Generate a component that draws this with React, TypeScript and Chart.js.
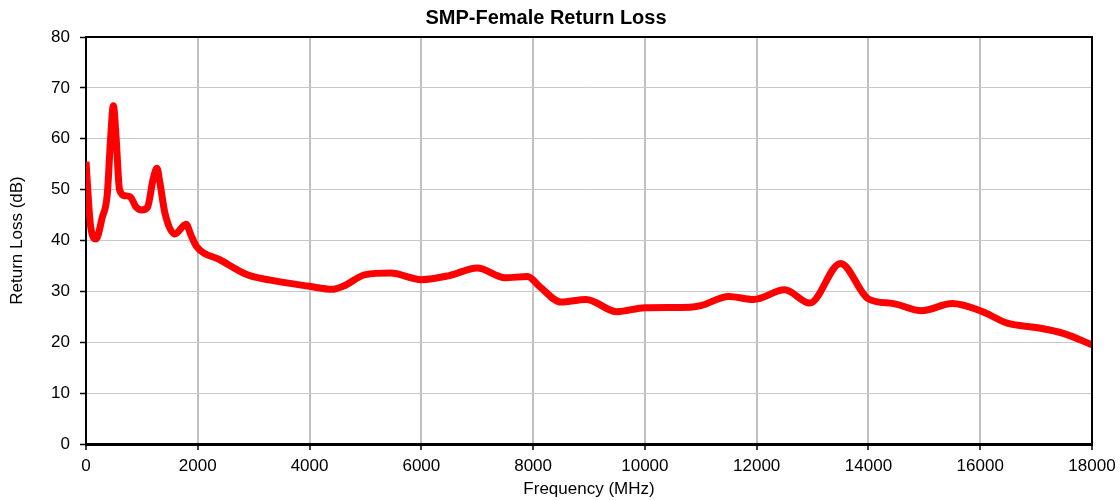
import React, { useEffect, useRef } from "react";
import { Chart, registerables } from "chart.js";

Chart.register(...registerables);

const frequencies = [
  0, 80, 180, 290, 380, 440, 490, 540, 600, 700, 790, 900, 1000, 1100, 1200, 1270,
  1320, 1414, 1590, 1790, 1880, 1980, 2400, 2900, 3300, 4000, 4400, 4600, 5000, 5450,
  6000, 6500, 7000, 7500, 7900, 8120, 8500, 8950, 9500, 10000, 10800, 11000, 11500,
  11950, 12500, 12950, 13500, 14000, 14450, 14950, 15500, 16000, 16500, 17000, 17500, 18000,
];
const returnLoss = [
  55.5, 43, 40.3, 44.5, 49, 60, 66.5, 60, 50, 48.8, 48.6, 46.5, 46, 46.5, 52, 54.2,
  51.5, 45.3, 41.3, 43.2, 41, 38.8, 36.2, 33.2, 32.2, 31, 30.4, 31, 33.3, 33.6,
  32.3, 33.1, 34.6, 32.7, 32.9, 30.9, 27.9, 28.4, 26, 26.8, 26.9, 27.2, 29,
  28.4, 30.3, 27.7, 35.5, 28.5, 27.6, 26.2, 27.6, 26.2, 23.7, 22.9, 21.7, 19.5,
];
const xTicks = [0, 2000, 4000, 6000, 8000, 10000, 12000, 14000, 16000, 18000];
const yTicks = [0, 10, 20, 30, 40, 50, 60, 70, 80];

const FONT = "'Liberation Sans', Arial, sans-serif";

const frameBorder = {
  id: "frameBorder",
  afterDatasetsDraw(chart: any) {
    const { ctx, chartArea } = chart;
    ctx.save();
    ctx.strokeStyle = "#000";
    ctx.lineWidth = 2;
    ctx.beginPath();
    ctx.moveTo(chartArea.left, chartArea.top);
    ctx.lineTo(chartArea.right, chartArea.top);
    ctx.lineTo(chartArea.right, chartArea.bottom);
    ctx.stroke();
    ctx.restore();
  },
};

export default function App() {
  const ref = useRef<HTMLCanvasElement>(null);
  useEffect(() => {
    if (!ref.current) return;
    const chart = new Chart(ref.current, {
      type: "line",
      data: {
        datasets: [
          {
            label: "Return Loss",
            data: frequencies.map((f, i) => ({ x: f, y: returnLoss[i] })),
            borderColor: "#ff0000",
            backgroundColor: "#ff0000",
            borderWidth: 7,
            pointRadius: 0,
            cubicInterpolationMode: "monotone",
            borderCapStyle: "butt",
            borderJoinStyle: "round",
            clip: 0 as any,
          },
        ],
      },
      options: {
        responsive: false,
        animation: false,
        layout: { padding: { left: 0, right: 28, top: 0, bottom: 0 } },
        plugins: {
          legend: { display: false },
          tooltip: { enabled: false },
          title: {
            display: true,
            text: "SMP-Female Return Loss",
            color: "#000",
            font: { family: FONT, size: 20, weight: "bold" },
            padding: { top: 6, bottom: 7 },
          },
        },
        scales: {
          x: {
            type: "linear",
            min: 0,
            max: 18000,
            afterBuildTicks: (scale: any) => {
              scale.ticks = xTicks.map((v) => ({ value: v }));
            },
            afterFit: (scale: any) => {
              scale.height = 56;
              scale.paddingLeft = 0;
              scale.paddingRight = 0;
            },
            ticks: {
              autoSkip: false,
              maxRotation: 0,
              color: "#000",
              padding: 6,
              font: { family: FONT, size: 17 },
              callback: (v: any) => String(v),
            },
            grid: {
              color: "#c0c0c0",
              lineWidth: 2,
              tickColor: "#000",
              tickLength: 6,
              tickWidth: 1.5,
            },
            border: { display: true, color: "#000", width: 3 },
            title: {
              display: true,
              text: "Frequency (MHz)",
              color: "#000",
              font: { family: FONT, size: 17 },
              padding: { top: 0, bottom: 0 },
            },
          },
          y: {
            type: "linear",
            min: 0,
            max: 80,
            afterBuildTicks: (scale: any) => {
              scale.ticks = yTicks.map((v) => ({ value: v }));
            },
            afterFit: (scale: any) => {
              scale.width = 86;
              scale.paddingTop = 0;
              scale.paddingBottom = 0;
            },
            ticks: {
              color: "#000",
              padding: 10,
              font: { family: FONT, size: 17 },
              callback: (v: any) => String(v),
            },
            grid: {
              color: "#c8c8c8",
              lineWidth: 1,
              tickColor: "#000",
              tickLength: 6,
              tickWidth: 1.5,
            },
            border: { display: true, color: "#000", width: 2 },
            title: {
              display: true,
              text: "Return Loss (dB)",
              color: "#000",
              font: { family: FONT, size: 17 },
              padding: { top: 7, bottom: 0 },
            },
          },
        },
      },
      plugins: [frameBorder],
    });
    return () => chart.destroy();
  }, []);
  return (
    <div style={{ position: "absolute", left: 0, top: 0, width: 1120, height: 500, background: "#fff" }}>
      <canvas ref={ref} width={1120} height={500} />
    </div>
  );
}
